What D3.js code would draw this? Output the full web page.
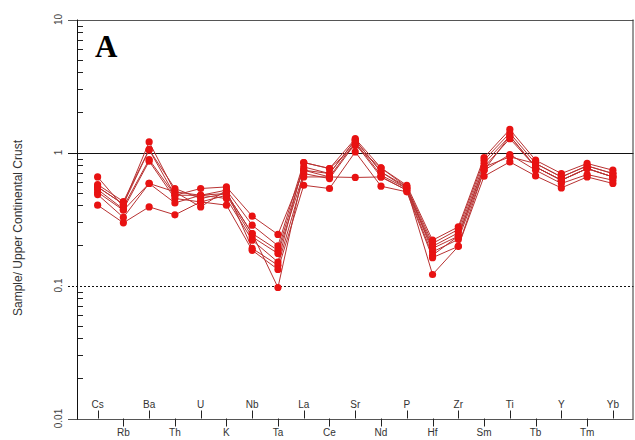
<!DOCTYPE html>
<html><head><meta charset="utf-8">
<script src="https://cdn.jsdelivr.net/npm/d3@7"></script>
<style>body{margin:0;background:#fff}svg{display:block}</style>
</head><body>
<svg id="c" width="635" height="440"></svg>
<script>
const categories = ["Cs","Rb","Ba","Th","U","K","Nb","Ta","La","Ce","Sr","Nd","P","Hf","Zr","Sm","Ti","Tb","Y","Tm","Yb"];
const s1 = [0.551,0.409,1.20,0.506,0.477,0.521,0.284,0.199,0.841,0.758,1.27,0.766,0.567,0.219,0.276,0.917,1.49,0.875,0.695,0.827,0.736];
const s2 = [0.574,0.428,1.05,0.536,0.451,0.492,0.246,0.184,0.779,0.695,1.24,0.715,0.551,0.207,0.264,0.875,1.40,0.827,0.655,0.793,0.695];
const s3 = [0.655,0.390,0.886,0.477,0.536,0.551,0.332,0.242,0.736,0.655,1.20,0.675,0.536,0.197,0.249,0.827,1.33,0.779,0.619,0.758,0.655];
const s4 = [0.527,0.375,0.860,0.451,0.425,0.477,0.232,0.174,0.695,0.637,1.17,0.655,0.521,0.190,0.235,0.779,1.27,0.779,0.619,0.758,0.655];
const s5 = [0.503,0.368,0.585,0.418,0.477,0.451,0.219,0.150,0.841,0.758,1.13,0.766,0.551,0.179,0.222,0.736,0.966,0.736,0.585,0.683,0.619];
const s6 = [0.483,0.325,0.585,0.506,0.390,0.521,0.190,0.142,0.655,0.655,0.649,0.655,0.521,0.169,0.235,0.779,0.927,0.827,0.655,0.793,0.695];
const s7 = [0.402,0.296,0.390,0.340,0.425,0.402,0.184,0.132,0.567,0.536,1.01,0.558,0.506,0.162,0.197,0.663,0.850,0.667,0.542,0.655,0.585];
const s8 = [0.551,0.409,1.05,0.477,0.477,0.492,0.246,0.0966,0.736,0.695,1.24,0.715,0.536,0.121,0.197,0.736,1.33,0.779,0.619,0.758,0.655];
const series = [s1,s2,s3,s4,s5,s6,s7,s8];
const yTickLabels = ["0.01","0.1","1","10"];
const yTickValues = [0.01,0.1,1,10];

const svg = d3.select("#c");
const L = 77, R = 633.5, T = 19.5, B = 418.5;
const x = d3.scalePoint().domain(categories).range([L, R]).padding(0.8);
const y = d3.scaleLog().domain([0.01, 10]).range([B, T]);

// minor ticks
const minor = [];
for (let e = -2; e < 1; e++) for (let m = 2; m <= 9; m++) minor.push(m * Math.pow(10, e));
svg.append("g").selectAll("line").data(minor).join("line")
  .attr("x1", L).attr("x2", L + 6)
  .attr("y1", d => Math.round(y(d)) + 0.5).attr("y2", d => Math.round(y(d)) + 0.5)
  .attr("stroke", "#222").attr("stroke-width", 1);

// reference lines
svg.append("line").attr("x1", 68).attr("x2", R).attr("y1", Math.round(y(1)) + 0.5).attr("y2", Math.round(y(1)) + 0.5)
  .attr("stroke", "#111").attr("stroke-width", 1);
svg.append("line").attr("x1", 68).attr("x2", R).attr("y1", Math.round(y(0.1)) + 0.5).attr("y2", Math.round(y(0.1)) + 0.5)
  .attr("stroke", "#111").attr("stroke-width", 1).attr("stroke-dasharray", "2,2");
svg.append("line").attr("x1", 68).attr("x2", R).attr("y1", Math.round(y(10)) + 0.5).attr("y2", Math.round(y(10)) + 0.5)
  .attr("stroke", "#555").attr("stroke-width", 1);
svg.append("line").attr("x1", 68).attr("x2", R).attr("y1", Math.round(y(0.01)) + 0.5).attr("y2", Math.round(y(0.01)) + 0.5)
  .attr("stroke", "#555").attr("stroke-width", 1);
// axes frame
svg.append("line").attr("x1", L + 0.5).attr("x2", L + 0.5).attr("y1", T).attr("y2", B + 1)
  .attr("stroke", "#111").attr("stroke-width", 1);
svg.append("line").attr("x1", R - 0.5).attr("x2", R - 0.5).attr("y1", T).attr("y2", B + 1)
  .attr("stroke", "#333").attr("stroke-width", 1);

// y tick labels (rotated)
svg.append("g").selectAll("text").data(yTickValues).join("text")
  .attr("transform", (d) => `translate(62,${y(d)}) rotate(-90)`)
  .attr("text-anchor", "middle")
  .attr("font-family", "Liberation Sans, Arial, sans-serif").attr("font-size", 10).attr("fill", "#444")
  .text((d, i) => yTickLabels[i]);

// y title
svg.append("text").attr("transform", "translate(22,228) rotate(-90)")
  .attr("text-anchor", "middle")
  .attr("font-family", "Liberation Sans, Arial, sans-serif").attr("font-size", 12).attr("fill", "#333")
  .text("Sample/ Upper Continental Crust");

// x ticks & labels
const xg = svg.append("g");
categories.forEach((c, i) => {
  const xx = Math.round(x(c)) + 0.5;
  const up = i % 2 === 0;
  xg.append("line").attr("x1", xx).attr("x2", xx)
    .attr("y1", B).attr("y2", up ? B - 8 : B + 8)
    .attr("stroke", "#222").attr("stroke-width", 1);
  xg.append("text").attr("x", x(c)).attr("y", up ? 407.5 : 436)
    .attr("text-anchor", "middle")
    .attr("font-family", "Liberation Sans, Arial, sans-serif").attr("font-size", 10).attr("fill", "#333")
    .text(c);
});

// panel letter
svg.append("text").attr("x", 95).attr("y", 57)
  .attr("font-family", "Liberation Serif, Times New Roman, serif").attr("font-weight", "bold")
  .attr("font-size", 31).attr("fill", "#000").text("A");

// series
const line = d3.line().x((d, i) => x(categories[i])).y(d => y(d));
const gS = svg.append("g");
series.forEach(s => {
  gS.append("path").datum(s).attr("d", line).attr("fill", "none")
    .attr("stroke", "#b83232").attr("stroke-width", 1);
});
series.forEach(s => {
  gS.append("g").selectAll("circle").data(s).join("circle")
    .attr("cx", (d, i) => x(categories[i])).attr("cy", d => y(d)).attr("r", 3.6)
    .attr("fill", "#e81212");
});
</script>
</body></html>
